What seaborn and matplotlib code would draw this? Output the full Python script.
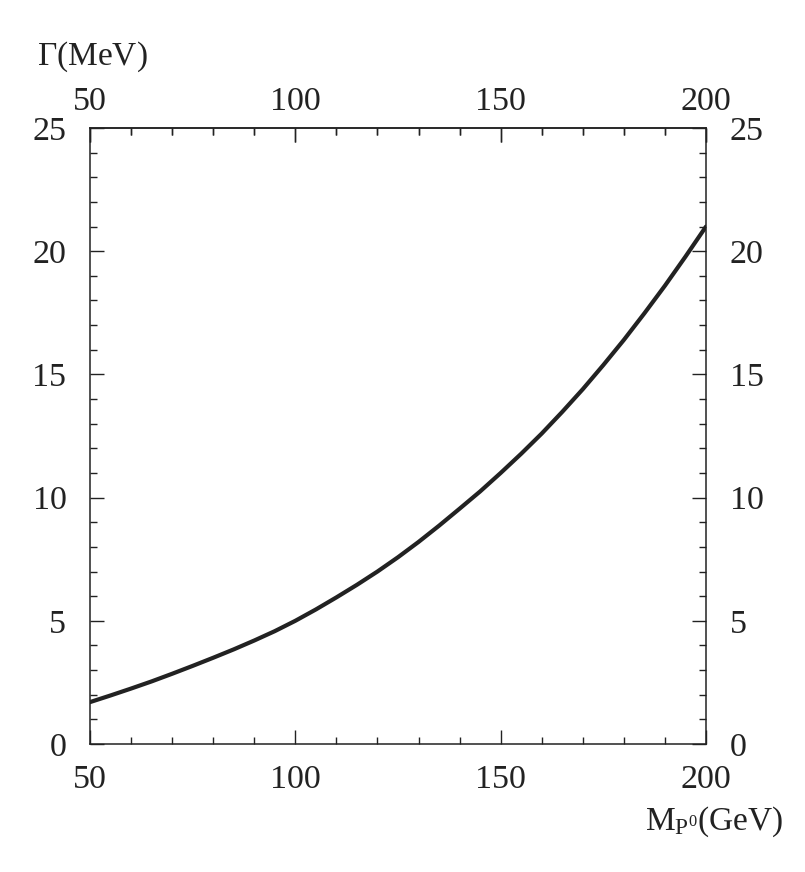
import matplotlib
matplotlib.use("Agg")
import matplotlib.pyplot as plt
import seaborn as sns
import pandas as pd
from matplotlib.ticker import MultipleLocator

mass_gev = [50, 55, 60, 65, 70, 75, 80, 85, 90, 95, 100, 105, 110, 115, 120, 125,
            130, 135, 140, 145, 150, 155, 160, 165, 170, 175, 180, 185, 190, 195, 200]
width_mev = [1.70, 1.97, 2.25, 2.54, 2.85, 3.17, 3.50, 3.84, 4.20, 4.58, 5.00, 5.46,
             5.95, 6.46, 7.00, 7.58, 8.20, 8.86, 9.55, 10.25, 11.0, 11.78, 12.6, 13.48,
             14.4, 15.38, 16.4, 17.48, 18.6, 19.78, 21.0]
x_ticks = [50, 100, 150, 200]
y_ticks = [0, 5, 10, 15, 20, 25]

sns.set_theme(style="ticks")
plt.rcParams['font.family'] = ['Liberation Serif', 'DejaVu Serif']
plt.rcParams['mathtext.fontset'] = 'custom'
plt.rcParams['mathtext.rm'] = 'Liberation Serif'
plt.rcParams['mathtext.it'] = 'Liberation Serif:italic'

ink = '#222222'
df = pd.DataFrame({'M': mass_gev, 'G': width_mev})

fig = plt.figure(figsize=(8.05, 8.72), dpi=100)
ax = fig.add_axes([90/805, 1-744/872, 616/805, 616/872])
sns.lineplot(data=df, x='M', y='G', ax=ax, color=ink, linewidth=3.0)

ax.set_xlim(50, 200)
ax.set_ylim(0, 25)
ax.set_xticks(x_ticks)
ax.set_yticks(y_ticks)
ax.xaxis.set_minor_locator(MultipleLocator(10))
ax.yaxis.set_minor_locator(MultipleLocator(1))
ax.set_xlabel('')
ax.set_ylabel('')
for s in ax.spines.values():
    s.set_visible(True)
    s.set_color(ink)
    s.set_linewidth(1.1)
ax.tick_params(which='both', direction='in', top=True, right=True,
               labeltop=False, labelright=True, color=ink, labelcolor=ink,
               labelsize=24.5)
ax.tick_params(which='major', length=10, width=1.0)
ax.tick_params(which='minor', length=5, width=1.0)
ax.tick_params(axis='x', which='major', pad=14.5)
ax.tick_params(axis='y', which='major', pad=17)

# top tick labels with a tighter pad
sec = ax.secondary_xaxis('top')
sec.set_xticks(x_ticks)
sec.xaxis.set_minor_locator(MultipleLocator(10))
sec.spines['top'].set_color(ink)
sec.spines['top'].set_linewidth(1.1)
sec.tick_params(which='both', direction='in', color=ink, labelcolor=ink,
                labelsize=24.5)
sec.tick_params(which='major', length=10, width=1.0, pad=8)
sec.tick_params(which='minor', length=5, width=1.0)

fig.text(37/805, 1-57/872, r'$\Gamma$(MeV)', fontsize=24, color=ink,
         ha='left', va='center')
fig.text(783/805, 1-822/872, r'M$_{\mathrm{P}^0}$(GeV)', fontsize=24, color=ink,
         ha='right', va='center')

fig.savefig('out.png', dpi=100, facecolor='white')
